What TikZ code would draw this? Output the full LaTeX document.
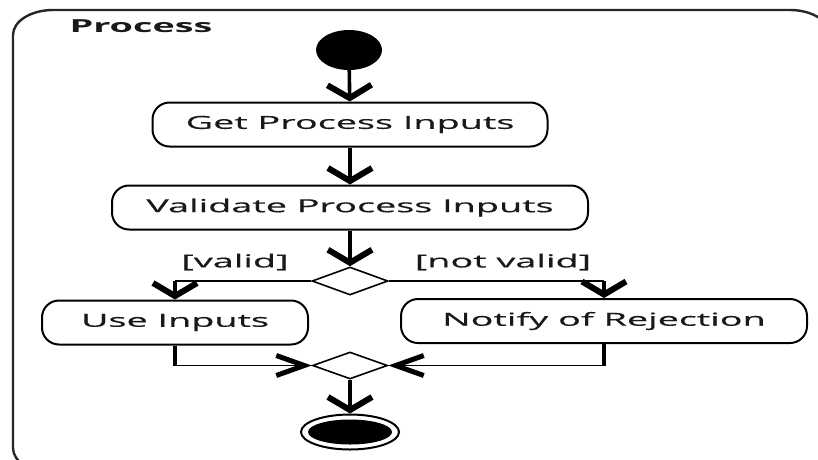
\documentclass[tikz,border=0pt]{standalone}
\usepackage{fontspec}
\setmainfont{Open Sans}[FakeStretch=2.1, UprightFeatures={FakeBold=0.5}]
\usetikzlibrary{arrows.meta,shapes.geometric}

\begin{document}
\begin{tikzpicture}[x=1pt,y=-1pt,
  every node/.style={font=\fontsize{18}{21}\selectfont, text=black!90},
  action/.style={draw, line width=2pt, rounded corners=17pt, minimum height=44pt, inner sep=0pt},
  choice/.style={draw, diamond, line width=1.6pt, inner sep=0pt, minimum width=76pt, minimum height=28pt},
  downtip/.style={-{Straight Barb[length=13pt, width=44pt, line width=6pt]}},
  sidetip/.style={-{Straight Barb[length=28pt, width=20pt, line width=5pt]}},
  vflow/.style={line width=3.6pt},
  hflow/.style={line width=1.8pt},
]
\useasboundingbox (0,0) rectangle (818,459);
\clip (0,0) rectangle (818,459);

% activity frame with wide elliptical corners
\draw[line width=2.4pt, black!85]
  (13,35) arc[start angle=180, end angle=270, x radius=40, y radius=25]
  -- (790,10) arc[start angle=270, end angle=360, x radius=40, y radius=25]
  -- (830,448) arc[start angle=0, end angle=90, x radius=40, y radius=25]
  -- (53,473) arc[start angle=90, end angle=180, x radius=40, y radius=25]
  -- cycle;
\node[anchor=west, font=\fontsize{18}{21}\selectfont\bfseries] (title) at (66,26) {Process};

% nodes
\node[ellipse, fill=black, minimum width=66pt, minimum height=40pt, inner sep=0pt] (start) at (349,50) {};
\node[action, minimum width=395pt] (get) at (350,124.5) {Get Process Inputs};
\node[action, minimum width=476pt] (validate) at (350,207.5) {Validate Process Inputs};
\node[choice] (decide) at (350,281) {};
\node[action, minimum width=266pt] (use) at (175,322.5) {Use Inputs};
\node[action, minimum width=406pt] (notify) at (604,321) {Notify of Rejection};
\node[choice, minimum width=75pt, minimum height=27pt] (merge) at (350,365.5) {};
\node[ellipse, draw, line width=2pt, minimum width=98pt, minimum height=35pt, inner sep=0pt] (final) at (350,432) {};
\node[ellipse, fill=black, minimum width=84pt, minimum height=25pt, inner sep=0pt] (finalcore) at (350,432) {};

% guards
\node (valid) at (235,262) {[valid]};
\node (notvalid) at (503,262) {[not valid]};

% corner points of the branches
\coordinate (lturn) at (175,281);
\coordinate (rturn) at (604,281);
\coordinate (ljoin) at (175,365.5);
\coordinate (rjoin) at (604,365.5);

% flows
\draw[vflow, downtip] (start) -- (get);
\draw[vflow, downtip] (get) -- (validate);
\draw[vflow, downtip] (validate) -- (decide);
\draw[hflow] (decide.west) -- (lturn);
\draw[vflow, downtip] (lturn) -- (use);
\draw[hflow] (decide.east) -- (rturn);
\draw[vflow, downtip] (rturn) -- (notify);
\draw[vflow] (use) -- (ljoin);
\draw[hflow, sidetip] (ljoin) -- (merge.west);
\draw[vflow] (notify) -- (rjoin);
\draw[hflow, sidetip] (rjoin) -- (merge.east);
\draw[vflow, downtip] (merge) -- (final);
\end{tikzpicture}
\end{document}
